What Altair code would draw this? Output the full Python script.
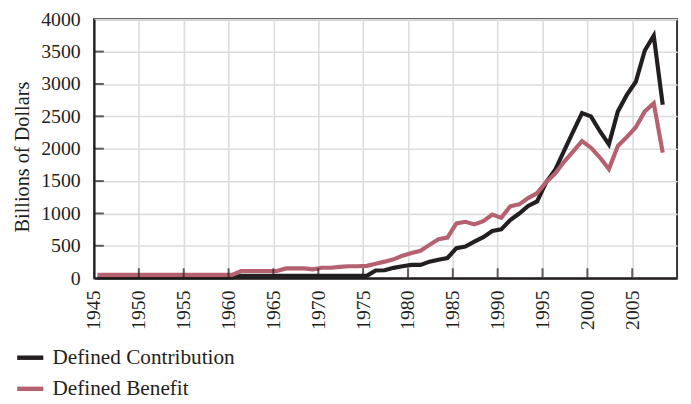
import altair as alt
import pandas as pd

years = list(range(1945, 2009))

defined_contribution = (
    [10] * 16                                   # 1945-1960
    + [35] * 15                                 # 1961-1975
    + [118, 122, 159, 183, 204, 204, 255, 285, 311,   # 1976-1984
       464, 489, 565, 632, 728, 754, 896, 998, 1115, 1186,  # 1985-1994
       1481, 1670, 1965, 2260, 2550, 2499, 2270, 2067,      # 1995-2002
       2576, 2830, 3034, 3517, 3746, 2678]                  # 2003-2008
)

defined_benefit = (
    [50] * 16                                   # 1945-1960
    + [110, 110, 110, 110, 110, 150, 150, 150, 135, 160, 160, 175, 183, 183, 190]  # 1961-1975
    + [224, 255, 290, 347, 387, 423, 514, 601, 626,          # 1976-1984
       846, 870, 830, 881, 983, 931, 1110, 1140, 1237, 1313,  # 1985-1994
       1481, 1614, 1797, 1954, 2118, 2015, 1863, 1685,        # 1995-2002
       2041, 2179, 2331, 2576, 2702, 1939]                    # 2003-2008
)

series_names = ["Defined Contribution", "Defined Benefit"]
series_colors = ["#231f20", "#b5616f"]

x_tick_values = list(range(1945, 2010, 5))
y_tick_values = list(range(0, 4001, 500))
x_inner_ticks = list(range(1950, 2010, 5))
y_inner_ticks = list(range(500, 4000, 500))

FONT = "Liberation Serif"

dc = pd.DataFrame({"year": years, "value": defined_contribution, "series": series_names[0]})
db = pd.DataFrame({"year": years, "value": defined_benefit, "series": series_names[1]})

x_scale = alt.Scale(domain=[1945, 2010], nice=False, zero=False)
y_scale = alt.Scale(domain=[0, 4000], nice=False)
color_scale = alt.Scale(domain=series_names, range=series_colors)

x_axis = alt.Axis(
    values=x_tick_values, format="d", labelAngle=270, labelFont=FONT, labelFontSize=20,
    labelColor="#231f20", labelPadding=12, ticks=False, tickSize=0,
    grid=True, gridColor="#dcdcdc", gridWidth=1.6,
    domainColor="#231f20", domainWidth=2.2, title=None, labelFlush=False, labelOverlap=False,
)
y_axis = alt.Axis(
    values=y_tick_values, format="d", labelFont=FONT, labelFontSize=20, labelColor="#231f20",
    labelPadding=14, ticks=False, tickSize=0,
    grid=True, gridColor="#dcdcdc", gridWidth=1.6,
    domainColor="#231f20", domainWidth=2.2,
    title="Billions of Dollars", titleFont=FONT, titleFontSize=20.5, titleFontWeight="normal",
    titleColor="#231f20", titleX=-66, titleY=139, titleBaseline="alphabetic", titleAngle=270,
    labelFlush=False, labelOverlap=False,
)

legend = alt.Legend(
    title=None, orient="none", legendX=-80, legendY=327, direction="vertical",
    symbolType="stroke", symbolStrokeWidth=4.5, symbolSize=700,
    labelFont=FONT, labelFontSize=21.5, labelColor="#231f20", labelOffset=7, labelLimit=400,
    rowPadding=5.5, padding=0,
)

def line_layer(df):
    return (
        alt.Chart(df)
        .transform_calculate(t="datum.year + 0.4")
        .mark_line(strokeWidth=4.2, strokeJoin="miter", strokeCap="butt")
        .encode(
            x=alt.X("t:Q", scale=x_scale, axis=x_axis),
            y=alt.Y("value:Q", scale=y_scale, axis=y_axis),
            color=alt.Color("series:N", scale=color_scale, legend=legend, sort=series_names),
        )
    )

xt = (
    alt.Chart(pd.DataFrame({"tick": x_inner_ticks}))
    .mark_tick(orient="vertical", size=10, thickness=2, yOffset=-5, color="#231f20")
    .encode(x=alt.X("tick:Q", scale=x_scale, axis=x_axis), y=alt.YDatum(0, scale=y_scale, axis=y_axis))
)
yt = (
    alt.Chart(pd.DataFrame({"tick": y_inner_ticks}))
    .mark_tick(orient="horizontal", size=10, thickness=2, xOffset=5, color="#231f20")
    .encode(y=alt.Y("tick:Q", scale=y_scale, axis=y_axis), x=alt.XDatum(1945, scale=x_scale, axis=x_axis))
)

chart = (
    alt.layer(line_layer(dc), line_layer(db), xt, yt)
    .properties(
        width=590, height=262,
        autosize=alt.AutoSizeParams(type="none"),
        padding={"left": 87, "top": 9, "right": 6, "bottom": 125},
        background="white",
    )
    .configure_view(stroke="#333333", strokeWidth=2)
)

chart.save("out.html", embed_options={"renderer": "svg", "actions": False})
